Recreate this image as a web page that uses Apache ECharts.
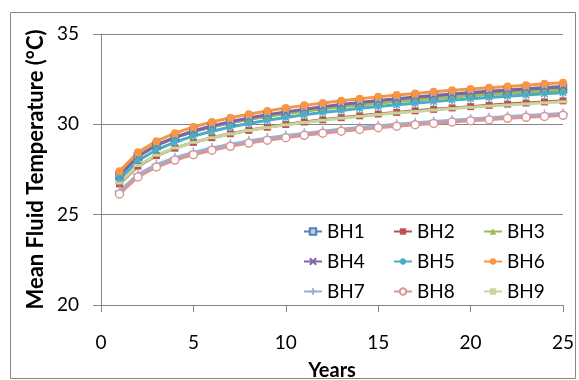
<!DOCTYPE html>
<html>
<head>
<meta charset="utf-8">
<script src="https://cdn.jsdelivr.net/npm/echarts@6/dist/echarts.min.js"></script>
<style>
  html, body { margin: 0; padding: 0; background: #fff; }
  #chart { width: 579px; height: 380px; }
</style>
</head>
<body>
<div id="chart"></div>
<script>
// years 1..25
var years = [1,2,3,4,5,6,7,8,9,10,11,12,13,14,15,16,17,18,19,20,21,22,23,24,25];
var seriesNames = ['BH1','BH2','BH3','BH4','BH5','BH6','BH7','BH8','BH9'];

var bh1 = [27.20,28.23,28.84,29.27,29.60,29.87,30.10,30.30,30.48,30.63,30.78,30.91,31.02,31.14,31.24,31.33,31.42,31.51,31.59,31.67,31.74,31.81,31.87,31.94,32.00];
var bh2 = [26.70,27.69,28.27,28.68,29.00,29.26,29.48,29.67,29.84,29.99,30.13,30.25,30.37,30.47,30.57,30.66,30.75,30.83,30.91,30.98,31.05,31.12,31.18,31.24,31.30];
var bh3 = [27.30,28.29,28.87,29.28,29.60,29.86,30.08,30.27,30.44,30.59,30.73,30.85,30.97,31.07,31.17,31.26,31.35,31.43,31.51,31.58,31.65,31.72,31.78,31.84,31.90];
var bh4 = [27.15,28.22,28.84,29.28,29.63,29.91,30.14,30.35,30.53,30.69,30.84,30.97,31.10,31.21,31.32,31.42,31.51,31.60,31.68,31.76,31.83,31.90,31.97,32.04,32.10];
var bh5 = [26.95,27.98,28.59,29.02,29.35,29.62,29.85,30.05,30.23,30.38,30.53,30.66,30.77,30.89,30.99,31.08,31.17,31.26,31.34,31.42,31.49,31.56,31.62,31.69,31.75];
var bh6 = [27.40,28.45,29.07,29.51,29.85,30.13,30.36,30.56,30.74,30.91,31.05,31.18,31.30,31.42,31.52,31.62,31.71,31.80,31.88,31.96,32.03,32.10,32.17,32.24,32.30];
var bh7 = [26.30,27.23,27.77,28.15,28.45,28.69,28.90,29.08,29.24,29.38,29.50,29.62,29.73,29.83,29.92,30.01,30.09,30.16,30.23,30.30,30.37,30.43,30.49,30.55,30.60];
var bh8 = [26.15,27.09,27.64,28.02,28.32,28.57,28.78,28.96,29.12,29.26,29.39,29.51,29.62,29.72,29.81,29.90,29.98,30.05,30.13,30.20,30.26,30.33,30.39,30.44,30.50];
var bh9 = [26.75,27.72,28.29,28.69,29.00,29.26,29.47,29.66,29.82,29.97,30.10,30.22,30.34,30.44,30.54,30.63,30.71,30.79,30.87,30.94,31.01,31.07,31.13,31.19,31.25];

var xTicks = [0,5,10,15,20,25];
var yTicks = [20,25,30,35];

var allData = [bh1,bh2,bh3,bh4,bh5,bh6,bh7,bh8,bh9];
var colors = ['#4F81BD','#C0504D','#9BBB59','#8064A2','#4BACC6','#F79646','#95B3D7','#DA9694','#C3D69B'];
var fills  = ['#B9CDE5', null, null, null, null, null, null, '#fff', null];
var symbols = [
  'rect', 'rect', 'triangle',
  'path://M0,0L10,10M10,0L0,10',
  'path://M5,0L5,10M0,5L10,5M1.5,1.5L8.5,8.5M8.5,1.5L1.5,8.5',
  'circle',
  'path://M5,0L5,10M0,5L10,5',
  'circle',
  'rect'
];
var sizes = [7, 7, 8, 8, 9, 8, 10, 8, [9, 3]];

var font = 'Lato, "Open Sans", sans-serif';

var series = seriesNames.map(function(name, i) {
  var stroked = symbols[i].indexOf('path://') === 0 || fills[i];
  return {
    name: name,
    type: 'line',
    data: years.map(function(y, k) { return [y, allData[i][k]]; }),
    symbol: symbols[i],
    symbolSize: sizes[i],
    showAllSymbol: true,
    lineStyle: { color: colors[i], width: 3 },
    itemStyle: {
      color: fills[i] || colors[i],
      borderColor: colors[i],
      borderWidth: stroked ? 1.5 : 0
    },
    emphasis: { disabled: true },
    animation: false
  };
});

// one legend per column, rows 30px apart
function legendCol(names, left) {
  return {
    data: names,
    left: left,
    top: 221,
    orient: 'vertical',
    itemWidth: 18,
    itemHeight: 8,
    itemGap: 9,
    textStyle: { fontFamily: font, fontSize: 19, lineHeight: 21, color: '#000' },
    padding: 0
  };
}

var chart = echarts.init(document.getElementById('chart'));
chart.setOption({
  backgroundColor: '#fff',
  animation: false,
  graphic: [{
    type: 'rect',
    shape: { x: 10.5, y: 12.5, width: 565, height: 366 },
    style: { fill: 'none', stroke: '#868686', lineWidth: 1 },
    silent: true
  }],
  grid: { left: 101, right: 16, top: 34, bottom: 75, outerBoundsMode: 'none' },
  legend: [
    legendCol(['BH1','BH4','BH7'], 303),
    legendCol(['BH2','BH5','BH8'], 393),
    legendCol(['BH3','BH6','BH9'], 483)
  ],
  xAxis: {
    type: 'value',
    min: xTicks[0],
    max: xTicks[xTicks.length - 1],
    interval: 5,
    name: 'Years',
    nameLocation: 'middle',
    nameGap: 56,
    nameTextStyle: { fontFamily: font, fontSize: 20, fontWeight: 'bold', color: '#000' },
    axisLine: { onZero: false, lineStyle: { color: '#868686', width: 1 } },
    axisTick: { show: true, length: 7, lineStyle: { color: '#868686' } },
    axisLabel: { fontFamily: font, fontSize: 19, color: '#000', margin: 28 },
    splitLine: { show: false }
  },
  yAxis: {
    type: 'value',
    min: yTicks[0],
    max: yTicks[yTicks.length - 1],
    interval: 5,
    name: 'Mean Fluid Temperature (°C)',
    nameLocation: 'middle',
    nameGap: 54,
    nameMoveOverlap: false,
    nameTextStyle: { fontFamily: font, fontSize: 22, fontWeight: 'bold', color: '#000' },
    axisLine: { show: true, lineStyle: { color: '#868686', width: 1 } },
    axisTick: { show: true, length: 8, lineStyle: { color: '#868686' } },
    axisLabel: { fontFamily: font, fontSize: 19, color: '#000', margin: 22, align: 'right' },
    splitLine: { show: true, lineStyle: { color: '#868686', width: 1 } }
  },
  series: series
});
</script>
</body>
</html>
